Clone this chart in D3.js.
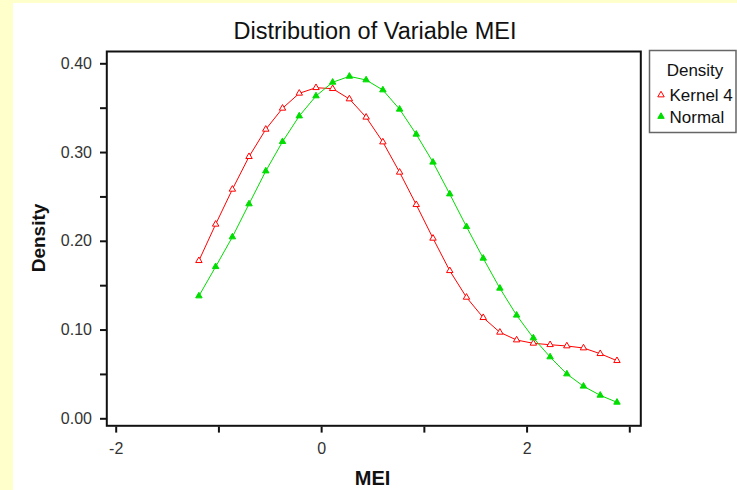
<!DOCTYPE html>
<html>
<head>
<meta charset="utf-8">
<script src="https://cdn.jsdelivr.net/npm/d3@7/dist/d3.min.js"></script>
<style>
  html, body { margin: 0; padding: 0; background: #ffffcc; }
  svg { display: block; }
  text { font-family: "Liberation Sans", Arial, sans-serif; }
</style>
</head>
<body>
<svg id="chart" width="737" height="490"></svg>
<script>
// ---- data ----
const title = "Distribution of Variable MEI";
const xLabel = "MEI";
const yLabel = "Density";
const legendTitle = "Density";
const seriesNames = ["Kernel 4", "Normal"];

const meiValues = [-1.190, -1.027, -0.864, -0.702, -0.539, -0.376, -0.213, -0.050,
                    0.112,  0.275,  0.438,  0.601,  0.764,  0.926,  1.089,  1.252,
                    1.415,  1.578,  1.740,  1.903,  2.066,  2.229,  2.392,  2.554,
                    2.717,  2.880];

const kernelDensity = [0.1776, 0.2186, 0.2580, 0.2948, 0.3256, 0.3493, 0.3662, 0.3725,
                       0.3714, 0.3598, 0.3392, 0.3113, 0.2772, 0.2407, 0.2028, 0.1663,
                       0.1363, 0.1134, 0.0969, 0.0882, 0.0845, 0.0829, 0.0815, 0.0792,
                       0.0728, 0.0649];

const normalDensity = [0.1378, 0.1708, 0.2043, 0.2415, 0.2786, 0.3117, 0.3406, 0.3632,
                       0.3786, 0.3853, 0.3812, 0.3699, 0.3482, 0.3200, 0.2885, 0.2527,
                       0.2159, 0.1803, 0.1465, 0.1161, 0.0905, 0.0691, 0.0499, 0.0361,
                       0.0259, 0.0180];

const xMajorTicks = [-2, 0, 2];
const xMinorTicks = [-1, 1, 3];
const yMajorTicks = [0.00, 0.10, 0.20, 0.30, 0.40];
const yMinorTicks = [0.05, 0.15, 0.25, 0.35];

// ---- layout ----
const svg = d3.select("#chart");
const frame = { left: 106.8, top: 51.5, right: 640.8, bottom: 425.8 };

const x = d3.scaleLinear().domain([-2, 3]).range([115.7, 629.3]);
const y = d3.scaleLinear().domain([0, 0.4]).range([418.3, 63.3]);

// background panel
svg.append("rect").attr("x", 0).attr("y", 0).attr("width", 737).attr("height", 490).attr("fill", "#ffffcc");
svg.append("rect").attr("x", 13).attr("y", 3).attr("width", 724).attr("height", 487).attr("fill", "#ffffff");

// title
svg.append("text")
  .attr("x", 375).attr("y", 38.5)
  .attr("text-anchor", "middle")
  .attr("font-size", 23.5)
  .attr("fill", "#111")
  .text(title);

// frame
svg.append("rect")
  .attr("x", frame.left).attr("y", frame.top)
  .attr("width", frame.right - frame.left).attr("height", frame.bottom - frame.top)
  .attr("fill", "#fff").attr("stroke", "#111").attr("stroke-width", 2);

// y axis ticks
const yAxis = d3.axisLeft(y)
  .tickValues(yMajorTicks.concat(yMinorTicks))
  .tickSize(6)
  .tickPadding(8)
  .tickFormat(d => yMajorTicks.includes(d) ? d3.format(".2f")(d) : "");
const gy = svg.append("g").attr("transform", `translate(${frame.left - 0.8},0)`).call(yAxis);
gy.select(".domain").remove();
gy.selectAll(".tick line").attr("stroke", "#111").attr("stroke-width", 2);
gy.selectAll(".tick text").attr("font-size", 16).attr("fill", "#333")
  .attr("font-family", "Liberation Sans, Arial, sans-serif");

// x axis ticks
const xAxis = d3.axisBottom(x)
  .tickValues(xMajorTicks.concat(xMinorTicks))
  .tickSize(6)
  .tickPadding(10)
  .tickFormat(d => xMajorTicks.includes(d) ? String(d) : "");
const gx = svg.append("g").attr("transform", `translate(0,${frame.bottom + 0.8})`).call(xAxis);
gx.select(".domain").remove();
gx.selectAll(".tick line").attr("stroke", "#111").attr("stroke-width", 2);
gx.selectAll(".tick text").attr("font-size", 16).attr("fill", "#333")
  .attr("font-family", "Liberation Sans, Arial, sans-serif");

// axis labels
svg.append("text")
  .attr("x", 372.5).attr("y", 485)
  .attr("text-anchor", "middle")
  .attr("font-size", 20).attr("font-weight", "bold").attr("fill", "#111")
  .text(xLabel);
svg.append("text")
  .attr("transform", "translate(45,238) rotate(-90)")
  .attr("text-anchor", "middle")
  .attr("font-size", 19).attr("font-weight", "bold").attr("fill", "#111")
  .text(yLabel);

// series
const redColor = "#ff0000";
const greenColor = "#00dd00";
const series = [
  { name: seriesNames[0], values: kernelDensity, color: redColor, fill: "#ffffff" },
  { name: seriesNames[1], values: normalDensity, color: greenColor, fill: greenColor }
];

const line = d3.line().x(d => x(d[0])).y(d => y(d[1]));
const tri = d3.symbol().type(d3.symbolTriangle).size(18);

series.forEach(s => {
  const pts = meiValues.map((m, i) => [m, s.values[i]]);
  svg.append("path").datum(pts)
    .attr("d", line)
    .attr("fill", "none").attr("stroke", s.color).attr("stroke-width", 1);
  svg.append("g").selectAll("path").data(pts).join("path")
    .attr("d", tri)
    .attr("transform", d => `translate(${x(d[0])},${y(d[1])})`)
    .attr("fill", s.fill).attr("stroke", s.color).attr("stroke-width", 1);
});

// legend
const lg = svg.append("g");
lg.append("rect").attr("x", 649.5).attr("y", 50.5).attr("width", 86.5).attr("height", 82)
  .attr("fill", "#fff").attr("stroke", "#666").attr("stroke-width", 1.5);
lg.append("text").attr("x", 695).attr("y", 75.5).attr("text-anchor", "middle")
  .attr("font-size", 17).attr("fill", "#111").text(legendTitle);
series.forEach((s, i) => {
  const yy = 95 + i * 21.5;
  lg.append("path").attr("d", tri)
    .attr("transform", `translate(661,${yy})`)
    .attr("fill", s.fill).attr("stroke", s.color).attr("stroke-width", 1);
  lg.append("text").attr("x", 669.5).attr("y", yy + 6)
    .attr("font-size", 17).attr("fill", "#111").text(s.name);
});
</script>
</body>
</html>
